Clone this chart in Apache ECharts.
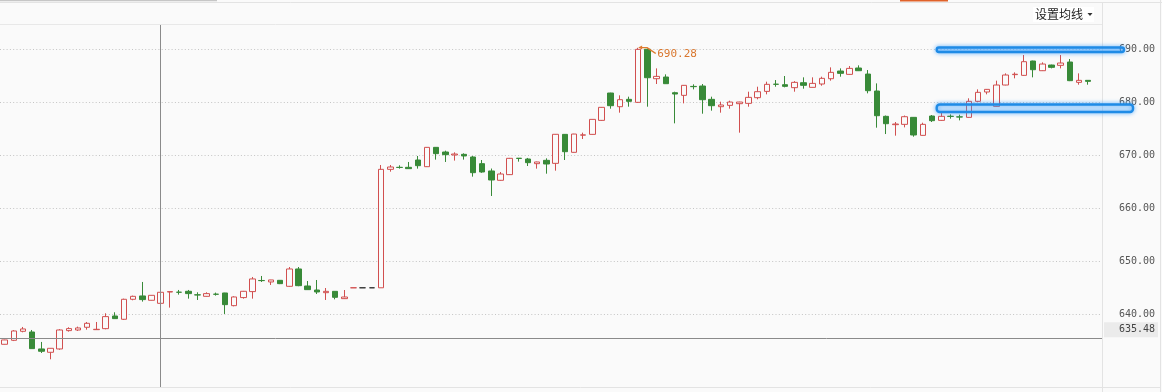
<!DOCTYPE html>
<html><head><meta charset="utf-8">
<script src="https://cdn.jsdelivr.net/npm/echarts@6/dist/echarts.min.js"></script>
<style>html,body{margin:0;padding:0;background:#fafafa;}#c{width:1162px;height:392px;}</style>
</head><body><div id="c"></div>
<script>
// ---- data ----
const opens  = [634.34,635.09,636.79,636.66,633.46,632.83,633.46,636.92,637.04,637.55,
  637.1,637.29,639.68,639.06,642.83,643.46,642.64,642.07,644.2,644.17,
  644.34,643.67,643.39,643.8,644.02,641.63,643.15,644.28,646.38,646.1,
  646.41,645.28,648.55,645.34,644.58,644.08,644.33,642.95,645,645,
  645,645,667.35,667.73,667.73,669.11,667.85,671.5,670.62,670.06,
  670.18,669.68,668.42,667.04,665.28,666.35,669.45,669.3,668.42,669.05,
  668.48,673.95,670.56,673.8,673.95,676.59,681.75,679.17,680.56,679.99,
  690.0,684.45,684.77,681.81,681.31,683.0,683.07,680.56,679.17,679.42,
  679.74,679.8,680.87,682.06,683.42,683.32,682.76,683.7,682.82,683.45,
  684.45,685.9,685.27,686.47,685.33,682.13,677.35,675.78,675.84,677.16,
  673.76,677.41,676.59,677.37,677.25,677.16,680.18,681.94,679.23,683.26,
  685.22,685.08,687.79,685.96,687.03,686.97,687.6,683.76,684.14];
const closes = [635.16,636.85,637.23,633.52,633.02,633.58,637.04,637.3,637.42,638.3,
  637.17,639.56,639.18,642.83,643.39,642.77,643.58,644.15,644.28,644.15,
  643.9,643.65,643.9,643.77,641.82,643.27,644.34,646.67,646.35,646.48,
  645.78,648.55,645.4,644.65,644.21,644.33,643.2,643.26,645,645,
  645,667.35,667.79,667.7,667.48,668.04,671.5,670.31,670.12,670.24,
  669.87,666.72,666.85,665.34,666.47,669.43,669.4,668.61,668.74,668.36,
  673.96,670.68,674.01,673.85,676.78,679.05,679.36,680.49,680.18,689.99,
  684.64,684.89,683.51,681.56,683.2,682.95,680.49,679.36,679.49,680.05,
  680.05,680.93,682.0,683.39,683.39,683.01,683.76,683.2,683.57,684.52,
  685.65,685.46,686.4,685.96,682.19,677.47,675.96,675.9,677.28,673.83,
  675.84,676.53,677.35,677.33,677.22,680.18,681.88,682.44,683.26,685.15,
  685.3,687.66,686.15,687.22,686.59,687.41,684.08,684.14,683.95];
const lows   = [634.3,634.95,636.6,633.5,632.7,631.51,633.3,636.73,636.85,637.1,
  637.1,637.17,639.18,638.93,642.64,642.39,642.6,642.07,641.26,643.71,
  642.95,642.7,643.33,643.52,640.06,641.5,642.95,642.95,646.1,645.53,
  645.7,645.2,645.3,644.6,643.83,642.7,642.82,642.9,645,645,
  645,645,666.91,667.48,667.45,667.48,667.8,669.18,668.74,669.0,
  669.18,665.97,666.7,662.32,665.2,666.3,668.8,667.98,667.48,666.53,
  667.1,669.11,670.5,673.07,673.9,676.5,678.79,678.04,679.17,679.9,
  679.17,683.45,683.5,676.03,679.8,682.44,677.85,678.42,678.04,678.8,
  674.27,679.17,680.56,681.5,682.94,682.82,682.0,682.57,682.8,683.13,
  684.08,684.83,685.2,685.9,681.69,675.21,674.01,673.7,675.27,673.51,
  673.7,676.28,676.5,676.91,676.59,677.1,680.1,681.5,679.2,683.2,
  684.52,685.0,684.71,685.9,686.4,686.4,684.0,683.32,683.32];
const highs  = [635.2,637.0,637.61,637.04,634.78,633.6,637.2,637.55,637.67,638.55,
  638.55,640.19,640.38,642.95,643.52,646.1,643.6,645.09,644.28,644.59,
  644.59,644.15,644.15,644.09,644.05,643.4,644.4,647.04,647.23,646.5,
  646.45,648.92,648.92,646.28,646.47,644.96,644.35,644.58,645,645,
  645,668.17,668.17,668.11,668.74,669.87,671.55,671.55,670.87,670.56,
  670.37,669.87,669.11,667.5,666.85,669.5,669.45,669.5,668.8,669.43,
  674.0,674.0,674.05,674.27,676.8,679.1,681.8,681.31,681.06,690.28,
  690.1,686.4,685.27,682.0,683.25,683.39,683.45,681.06,680.11,680.3,
  680.1,682.0,682.94,683.89,684.2,684.96,684.0,684.71,684.71,684.83,
  686.59,686.4,686.84,686.97,686.09,683.57,677.5,676.28,677.5,677.2,
  676.15,677.6,678.29,677.72,677.66,680.75,682.44,682.5,684.08,685.46,
  685.65,688.92,687.85,687.54,687.1,688.92,688.17,685.46,684.15];
const slotCount = 120;                       // one empty slot after the last candle
const categories = Array.from({length: slotCount}, (_, i) => String(i + 1));
const yTicks = [640, 650, 660, 670, 680, 690];
const crossIndex = 17;
const crossPrice = 635.48;
const zoneStartIndex = 101.5;
const zoneTops = [690.34, 679.58];
const zoneBottoms = [689.49, 678.17];
const menuText = '设置均线';

// ---- styling ----
const UP = '#d14f4f', DOWN = '#388a38', FLAT = '#333333', BG = '#fafafa';
const candleData = opens.map((o, i) => {
  const c = closes[i];
  let dir;
  if (c > o) dir = 1; else if (c < o) dir = -1;
  else { const p = i > 0 ? closes[i - 1] : c; dir = c > p ? 1 : (c < p ? -1 : 0); }
  const col = dir > 0 ? UP : (dir < 0 ? DOWN : FLAT);
  const fill = dir > 0 ? BG : col;
  return { value: [o, c, lows[i], highs[i]],
    itemStyle: { color: fill, color0: fill, borderColor: col, borderColor0: col, borderColorDoji: col } };
});
let maxIdx = 0; highs.forEach((h, i) => { if (h > highs[maxIdx]) maxIdx = i; });

const chart = echarts.init(document.getElementById('c'), null, {renderer: 'canvas'});
const option = {
  backgroundColor: BG,
  animation: false,
  grid: { left: 0, right: 60, top: 25, bottom: 5 },
  xAxis: { type: 'category', data: categories, boundaryGap: true,
    axisLine: {show: false}, axisTick: {show: false}, axisLabel: {show: false}, splitLine: {show: false} },
  yAxis: { type: 'value', position: 'right', min: 626.28, max: 694.585, scale: true,
    axisLine: {show: false},
    axisTick: {show: false, customValues: yTicks},
    axisLabel: {customValues: yTicks, formatter: v => v.toFixed(2), color: '#555',
      fontFamily: 'DejaVu Sans Mono', fontSize: 10, margin: 17},
    splitLine: {show: true, lineStyle: {type: [1, 2.3], color: '#c4c4c4', width: 1}} },
  series: [{
    type: 'candlestick', data: candleData, barWidth: 6,
    itemStyle: { borderWidth: 1 },
    markLine: { silent: true, symbol: 'none', animation: false,
      lineStyle: { color: '#8a8a8a', width: 1, type: 'solid' }, label: {show: false},
      data: [{ xAxis: crossIndex }, { yAxis: crossPrice }] },
    markPoint: { silent: true, animation: false,
      symbol: 'path://M0,2 L4,0 L4,1.4 L9.4,1.4 L18.5,7.5 L17.5,8.5 L8.6,2.6 L4,2.6 L4,4 Z',
      symbolSize: [18, 8.5], symbolOffset: [9, 2],
      itemStyle: { color: '#de7b2f' },
      label: { show: true, position: 'right', distance: 1, offset: [0, 4], color: '#d9772e',
        fontFamily: 'DejaVu Sans Mono', fontSize: 11, formatter: p => highs[maxIdx].toFixed(2) },
      data: [{ coord: [maxIdx, highs[maxIdx]], value: highs[maxIdx] }] }
  }]
};
chart.setOption(option);

const yp = v => chart.convertToPixel({yAxisIndex: 0}, v);
const xp = i => chart.convertToPixel({xAxisIndex: 0}, i);
const band = xp(1) - xp(0);
const zx = xp(Math.floor(zoneStartIndex)) + (zoneStartIndex - Math.floor(zoneStartIndex)) * band;
const zoneRight = [1124, 1133];
const crossY = yp(crossPrice);
const line = (x1, y1, x2, y2, c, w) => ({ type: 'line', silent: true, z: 10,
  shape: {x1, y1, x2, y2}, style: {stroke: c, lineWidth: w || 1} });

const graphics = [
  { type: 'rect', silent: true, z: 10, shape: {x: 0, y: 0, width: 217, height: 1.2}, style: {fill: '#c6c6c6'} },
  { type: 'rect', silent: true, z: 10, shape: {x: 900, y: 0, width: 48, height: 1.5}, style: {fill: '#e0622a'} },
  line(0, 2.5, 1162, 2.5, '#e3e3e3'),
  line(0, 24.5, 1102, 24.5, '#e8e8e8'),
  line(1102.5, 3, 1102.5, 392, '#e3e3e3'),
  line(1160.5, 0, 1160.5, 392, '#e3e3e3'),
  line(0, 387.5, 1161, 387.5, '#e3e3e3'),
  { type: 'rect', silent: true, z: 10, shape: {x: 1033, y: 7, width: 61, height: 15}, style: {fill: '#ffffff'} },
  { type: 'text', silent: true, z: 11, x: 1035, y: 14.5,
    style: {text: menuText, fill: '#222', font: '12px "Noto Sans CJK SC"', verticalAlign: 'middle'} },
  { type: 'polygon', silent: true, z: 11, shape: {points: [[1087.5, 13], [1092.5, 13], [1090, 16]]}, style: {fill: '#333'} },
  { type: 'rect', silent: true, z: 10, shape: {x: 1104, y: crossY - 16, width: 54, height: 15}, style: {fill: '#ebebeb'} },
  { type: 'text', silent: true, z: 11, x: 1119, y: crossY - 8.5,
    style: {text: crossPrice.toFixed(2), fill: '#444', font: '10px "DejaVu Sans Mono"', verticalAlign: 'middle'} }
];
zoneTops.forEach((t, k) => {
  const y1 = yp(t), y2 = yp(zoneBottoms[k]);
  graphics.push({ type: 'rect', silent: true, z: 20,
    shape: {x: zx, y: y1, width: zoneRight[k] - zx, height: y2 - y1, r: 3},
    style: {fill: 'rgba(120,190,255,0.12)', stroke: '#1f8be6', lineWidth: 2.4,
      shadowBlur: 4, shadowColor: 'rgba(40,150,255,0.8)'} });
});
chart.setOption({ graphic: graphics });
</script>
</body></html>
